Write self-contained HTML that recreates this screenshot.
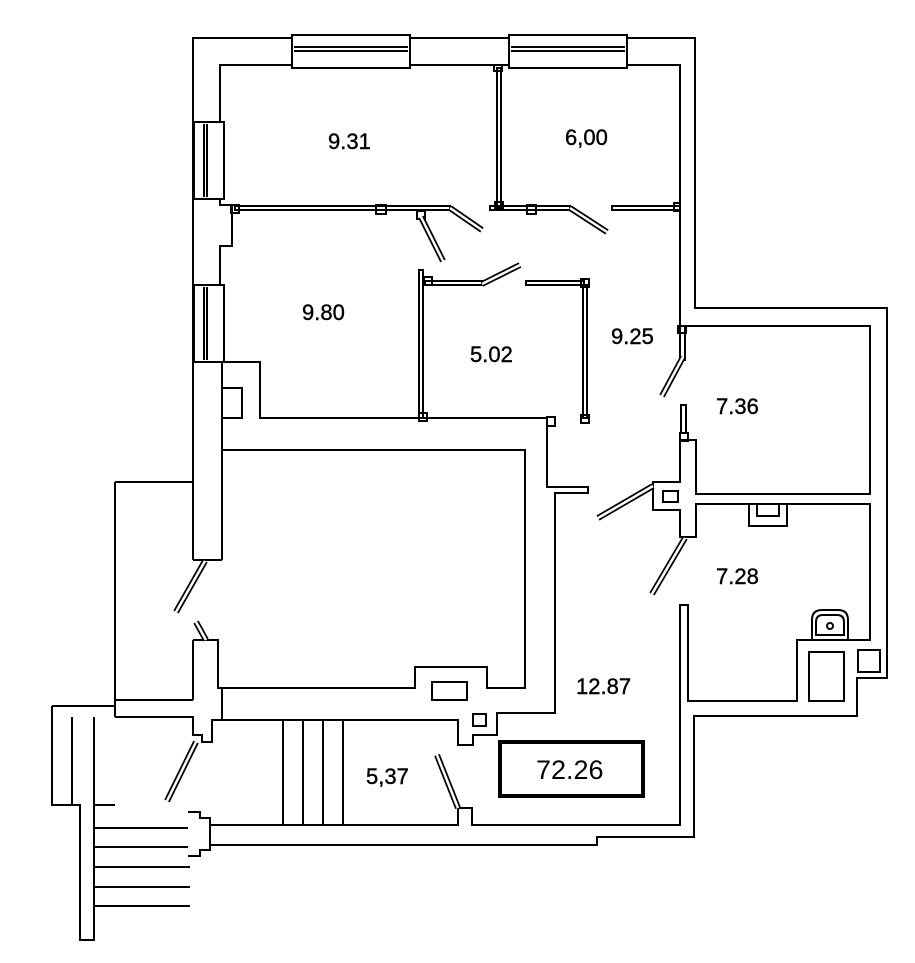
<!DOCTYPE html>
<html><head><meta charset="utf-8"><style>
html,body{margin:0;padding:0;background:#fff;}
svg{display:block}
text{font-family:"Liberation Sans",sans-serif;font-size:22px;fill:#000;stroke:#000;stroke-width:0.4px}
</style></head><body>
<svg width="915" height="963" viewBox="0 0 915 963" xmlns="http://www.w3.org/2000/svg">
<defs>
<g id="doors">
<line x1="450" y1="208" x2="482" y2="230"/>
<line x1="421" y1="217" x2="443" y2="261"/>
<line x1="570" y1="208" x2="607" y2="232"/>
<line x1="482" y1="284" x2="520" y2="265"/>
<line x1="683" y1="357" x2="662" y2="396"/>
<line x1="653" y1="486" x2="598" y2="518"/>
<line x1="685" y1="538" x2="652" y2="594"/>
<line x1="458" y1="808" x2="437" y2="755"/>
<line x1="205" y1="561" x2="176" y2="612"/>
<line x1="196" y1="622" x2="206" y2="640"/>
<line x1="196" y1="742" x2="167" y2="801"/>
</g>
</defs>
<g fill="none" stroke="#000" stroke-width="2">
<polyline points="193,560 193,38 695,38 695,308 887,308 887,678 857,678 857,716 694,716 694,837 597,837 597,845 210,845"/>
<polyline points="220,122 220,65 680,65 680,326 870,326 870,494 696,494 696,440 680,440"/>
<rect x="292" y="35" width="118" height="33" fill="#fff"/>
<line x1="294" y1="47" x2="408" y2="47"/><line x1="294" y1="51" x2="408" y2="51"/>
<rect x="509" y="35" width="118" height="33" fill="#fff"/>
<line x1="511" y1="47" x2="625" y2="47"/><line x1="511" y1="51" x2="625" y2="51"/>
<rect x="194" y="122" width="30" height="77" fill="#fff"/>
<line x1="204" y1="124" x2="204" y2="197"/><line x1="207" y1="124" x2="207" y2="197"/>
<rect x="194" y="285" width="30" height="77" fill="#fff"/>
<line x1="204" y1="287" x2="204" y2="360"/><line x1="207" y1="287" x2="207" y2="360"/>
<polyline points="220,199 220,205 232,205 232,246 220,246 220,285"/>
<polyline points="222,362 222,450 525,450 525,688 487,688 487,667 415,667 415,688 222,688"/>
<polyline points="222,362 260,362 260,418 547,418 547,487 588,487 588,493 555,493 555,713 497,713 497,735 473,735 473,745 458,745 458,720 222,720"/>
<rect x="222" y="388" width="20" height="30"/>
<line x1="193" y1="560" x2="222" y2="560"/><line x1="222" y1="450" x2="222" y2="560"/>
<rect x="432" y="682" width="35" height="18"/>
<rect x="473" y="714" width="13" height="12"/>
<rect x="497" y="68" width="4" height="140"/>
<rect x="494" y="65" width="8" height="6"/>
<rect x="235" y="206" width="215" height="4"/>
<rect x="231" y="205" width="8" height="8"/><rect x="376" y="205" width="10" height="9"/>
<rect x="417" y="211" width="8" height="8"/>
<rect x="490" y="206" width="80" height="4"/><rect x="495" y="202" width="8" height="8"/><rect x="527" y="205" width="9" height="9"/>
<rect x="612" y="206" width="68" height="4"/><rect x="674" y="203" width="6" height="8"/>
<rect x="419" y="270" width="4" height="148"/>
<rect x="425" y="281" width="57" height="4"/><rect x="424" y="277" width="8" height="8"/>
<rect x="526" y="281" width="58" height="4"/><rect x="581" y="279" width="8" height="8"/>
<rect x="583" y="285" width="4" height="133"/><rect x="581" y="415" width="8" height="8"/>
<rect x="419" y="413" width="8" height="8"/><rect x="547" y="417" width="8" height="9"/>
<rect x="680" y="326" width="5" height="34"/><rect x="678" y="326" width="8" height="7"/>
<rect x="681" y="405" width="5" height="28"/><rect x="680" y="433" width="8" height="8"/>
<polyline points="680,440 680,482 653,482 653,510 680,510 680,537 696,537 696,504 870,504 870,640 797,640 797,701 688,701 688,605 680,605 680,730"/>
<rect x="663" y="491" width="15" height="11"/>
<polyline points="749,504 749,526 787,526 787,504"/>
<rect x="757" y="504" width="22" height="12"/>
<rect x="809" y="652" width="35" height="49"/>
<rect x="858" y="650" width="22" height="22"/>
<path d="M812,640 L812,620 Q812,610 822,610 L838,610 Q848,610 848,620 L848,640"/>
<path d="M816,635 L816,622 Q816,615 823,615 L837,615 Q844,615 844,622 L844,635 Z"/>
<circle cx="830" cy="626" r="3"/>
<polyline points="680,730 680,825 472,825 472,808 458,808 458,825 210,825"/>
<line x1="283" y1="720" x2="283" y2="825"/><line x1="303" y1="720" x2="303" y2="825"/>
<line x1="323" y1="720" x2="323" y2="825"/><line x1="343" y1="720" x2="343" y2="825"/>
<polyline points="115,482 193,482"/><line x1="115" y1="482" x2="115" y2="717"/>
<polyline points="193,640 218,640 218,688 222,688 222,720 212,720 212,742 202,742 202,735 193,735 193,717 115,717"/>
<line x1="193" y1="640" x2="193" y2="700"/>
<line x1="115" y1="700" x2="193" y2="700"/>
<polyline points="188,812 200,812 200,818 210,818 210,850 200,850 200,856 188,856 Z"/>
<polyline points="52,717 52,805 80,805 80,940 94,940 94,805 115,805"/>
<polyline points="52,706 115,706"/><line x1="52" y1="706" x2="52" y2="717"/>
<line x1="72" y1="717" x2="72" y2="805"/><line x1="94" y1="717" x2="94" y2="805"/>
<line x1="94" y1="828" x2="188" y2="828"/><line x1="94" y1="847" x2="188" y2="847"/>
<line x1="94" y1="867" x2="190" y2="867"/><line x1="94" y1="887" x2="190" y2="887"/>
<line x1="94" y1="906" x2="190" y2="906"/>
<rect x="500" y="742" width="143" height="54" stroke-width="4"/>
</g>
<use href="#doors" stroke="#000" stroke-width="6"/>
<use href="#doors" stroke="#fff" stroke-width="2.5"/>
<text x="328" y="149">9.31</text>
<text x="565" y="145">6,00</text>
<text x="302" y="320">9.80</text>
<text x="470" y="362">5.02</text>
<text x="611" y="344">9.25</text>
<text x="716" y="414">7.36</text>
<text x="716" y="584">7.28</text>
<text x="576" y="694">12.87</text>
<text x="366" y="784">5,37</text>
<text x="536" y="779" style="font-size:27px;stroke-width:0">72.26</text>
</svg>
</body></html>
